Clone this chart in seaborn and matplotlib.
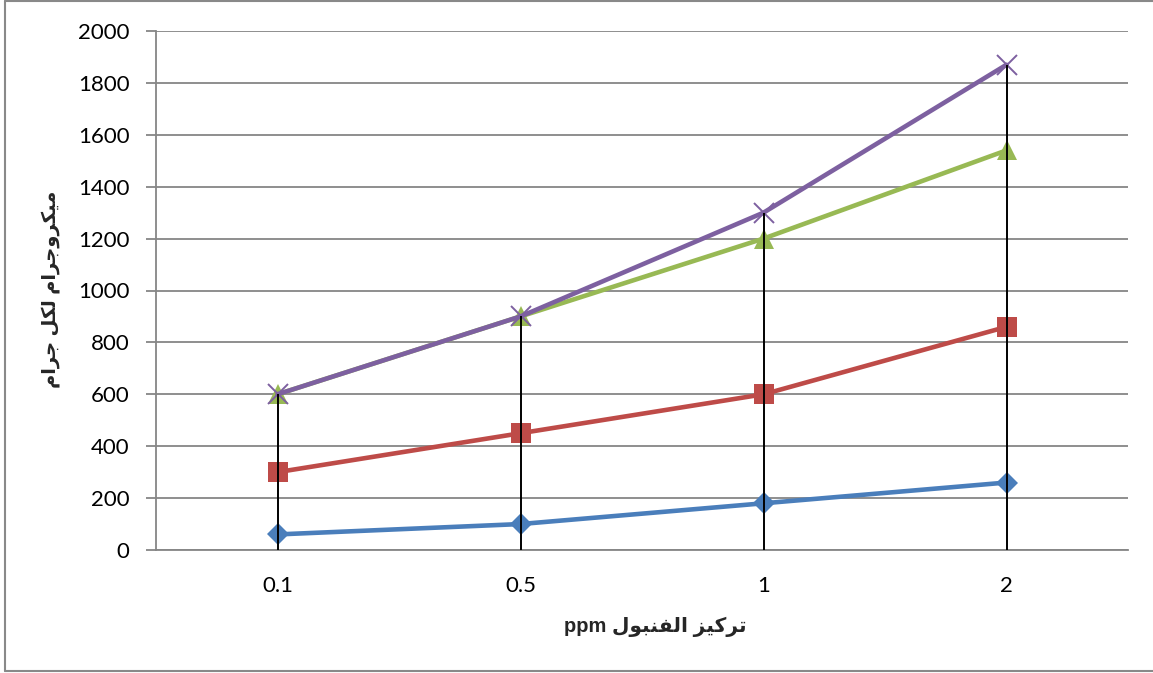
import matplotlib
matplotlib.use("Agg")
import matplotlib.pyplot as plt
from matplotlib.lines import Line2D
import seaborn as sns
import pandas as pd

# Phenol concentration (ppm) categories
categories = ["0.1", "0.5", "1", "2"]

# Four series (µg per g)
series_1 = [60, 100, 180, 260]
series_2 = [300, 450, 600, 860]
series_3 = [600, 900, 1200, 1540]
series_4 = [600, 900, 1300, 1870]

y_ticks = [0, 200, 400, 600, 800, 1000, 1200, 1400, 1600, 1800, 2000]

colors = ["#4A7EBB", "#BE4B48", "#98B954", "#7D60A0"]
markers = ["D", "s", "^", "x"]
marker_sizes = [11, 14, 14, 15]


def visual(shaped):
    # Arabic presentation forms in logical order -> left-to-right drawing order
    return "".join(reversed(shaped))


# "ميكروجرام لكل جرام" (presentation forms, logical order)
ylabel_shaped = ("\uFEE3\uFEF4\uFEDC\uFEAE\uFEED\uFE9F\uFEAE\uFE8D\uFEE1 "
                 "\uFEDF\uFEDC\uFEDE "
                 "\uFE9F\uFEAE\uFE8D\uFEE1")
# "تركيز الفنبول" (presentation forms, logical order)
xlabel_shaped = ("\uFE97\uFEAE\uFEDB\uFEF4\uFEB0 "
                 "\uFE8D\uFEDF\uFED4\uFEE8\uFE92\uFEEE\uFEDD")

sns.set_style("white")
plt.rcParams["font.family"] = ["Lato", "DejaVu Sans"]

fig = plt.figure(figsize=(11.53, 6.73), dpi=100)
ax = fig.add_axes([156 / 1153, 1 - 550 / 673, (1128 - 156) / 1153, (550 - 31) / 673])

all_series = [series_1, series_2, series_3, series_4]
frames = []
for i, vals in enumerate(all_series):
    frames.append(pd.DataFrame({"conc": categories, "value": vals, "series": f"s{i + 1}"}))
df = pd.concat(frames, ignore_index=True)

for i in range(4):
    sub = df[df["series"] == f"s{i + 1}"]
    mk = markers[i]
    kw = dict(markeredgewidth=1.4) if mk == "x" else dict(markeredgewidth=0)
    sns.lineplot(data=sub, x="conc", y="value", ax=ax, color=colors[i],
                 linewidth=3.3, marker=mk, markersize=marker_sizes[i],
                 markeredgecolor=colors[i], sort=False, legend=False,
                 zorder=3 + i, **kw)

# Drop lines from the highest point of each category down to the axis
tops = [max(v) for v in zip(*all_series)]
ax.vlines(range(len(categories)), 0, tops, colors="black", linewidth=1.4, zorder=10)

ax.set_xlim(-0.5, len(categories) - 0.5)
ax.set_ylim(0, 2000)
ax.set_yticks(y_ticks)
ax.set_yticklabels([str(t) for t in y_ticks])
ax.yaxis.grid(True, color="#868686", linewidth=1.3)
ax.xaxis.grid(False)
ax.set_axisbelow(True)

for side in ["top", "right"]:
    ax.spines[side].set_visible(False)
for side in ["left", "bottom"]:
    ax.spines[side].set_color("#868686")
    ax.spines[side].set_linewidth(1.3)

ax.tick_params(axis="y", direction="out", length=7, width=1.3, color="#868686",
               pad=12, labelsize=16, labelcolor="black", left=True)
ax.tick_params(axis="x", length=0, pad=19, labelsize=16, labelcolor="black")
ax.set_xlabel("")
ax.set_ylabel("")

label_font = ["Liberation Sans", "DejaVu Sans"]
fig.text(655 / 1153, 1 - 627 / 673, "ppm " + visual(xlabel_shaped),
         ha="center", va="center", fontsize=14.5, fontweight="bold", family=label_font)
fig.text(51 / 1153, 1 - 289 / 673, visual(ylabel_shaped), rotation=90,
         ha="center", va="center", fontsize=14, fontweight="bold", family=label_font)

# Chart frame
frame_kw = dict(color="#898989", linewidth=1.5, transform=fig.transFigure)
fig.add_artist(Line2D([5 / 1153, 5 / 1153], [1 - 1 / 673, 1 - 671 / 673], **frame_kw))
fig.add_artist(Line2D([5 / 1153, 1.0], [1 - 1 / 673, 1 - 1 / 673], **frame_kw))
fig.add_artist(Line2D([5 / 1153, 1.0], [1 - 671 / 673, 1 - 671 / 673], **frame_kw))

fig.savefig("out.png", dpi=100)
